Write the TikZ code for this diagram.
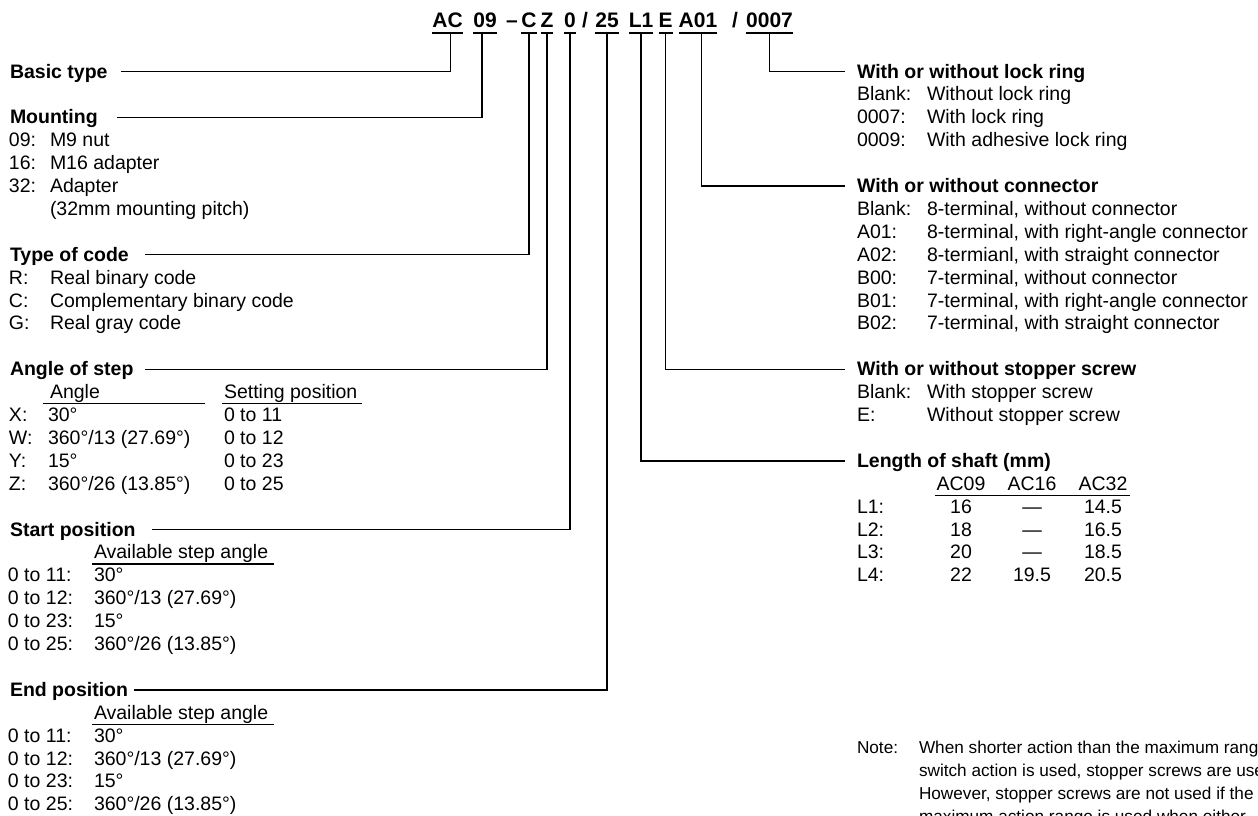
\documentclass[tikz,border=0pt]{standalone}
\usepackage{fontspec}
\setmainfont{Liberation Sans}
\newcommand\bodyfs{\fontsize{19.5}{22.9}\selectfont}
\newcommand\notefs{\fontsize{17.2}{22.9}\selectfont}
\newcommand\codefs{\fontsize{21}{24}\selectfont}
\begin{document}
\begin{tikzpicture}[x=1pt,y=-1pt,
  every node/.style={inner sep=0pt,outer sep=0pt,font=\bodyfs},
  txt/.style={anchor=base west},
  ttl/.style={anchor=base west,font=\bodyfs\bfseries},
  ctr/.style={anchor=base},
  notetxt/.style={anchor=base west,font=\notefs},
  code/.style={anchor=base,font=\codefs\bfseries},
  ln/.style={line width=1.4pt},
  cul/.style={line width=2.2pt},
  tul/.style={line width=1.3pt}]
\useasboundingbox (0,0) rectangle (1258,816);

% ---------------- header code ----------------
\node[code] (hAC)   at (447.5,28) {AC};
\node[code] (h09)   at (485,28)   {09};
\node[code] (hdash) at (512,28)   {–};
\node[code] (hC)    at (529,28)   {C};
\node[code] (hZ)    at (547,28)   {Z};
\node[code] (h0)    at (570,28)   {0};
\node[code] (hsl)   at (585,28)   {/};
\node[code] (h25)   at (607,28)   {25};
\node[code] (hL1)   at (641,28)   {L1};
\node[code] (hE)    at (665.5,28) {E};
\node[code] (hA01)  at (698,28)   {A01};
\node[code] (hslb)  at (735,28)   {/};
\node[code] (h0007) at (769.5,28) {0007};
\foreach \n in {hAC,h09,hC,hZ,h0,h25,hL1,hE,hA01,h0007}
  \draw[cul] ([yshift=-5pt]\n.base west) -- ([yshift=-5pt]\n.base east);

% ---------------- left column ----------------
\node[ttl] (tBasic) at (10,{78+22.9*0}) {Basic type};

\node[ttl] (tMount) at (10,{78+22.9*2}) {Mounting};
\node[txt] (mA) at (9,{78+22.9*3}) {09:};  \node[txt] (mAt) at (50,{78+22.9*3}) {M9 nut};
\node[txt] (mB) at (9,{78+22.9*4}) {16:};  \node[txt] (mBt) at (50,{78+22.9*4}) {M16 adapter};
\node[txt] (mC) at (9,{78+22.9*5}) {32:};  \node[txt] (mCt) at (50,{78+22.9*5}) {Adapter};
\node[txt] (mCu) at (50,{78+22.9*6}) {(32mm mounting pitch)};

\node[ttl] (tCode) at (10,{78+22.9*8}) {Type of code};
\node[txt] (cR) at (9,{78+22.9*9})  {R:}; \node[txt] (cRt) at (50,{78+22.9*9})  {Real binary code};
\node[txt] (cC) at (9,{78+22.9*10}) {C:}; \node[txt] (cCt) at (50,{78+22.9*10}) {Complementary binary code};
\node[txt] (cG) at (9,{78+22.9*11}) {G:}; \node[txt] (cGt) at (50,{78+22.9*11}) {Real gray code};

\node[ttl] (tAngle) at (10,{78+22.9*13}) {Angle of step};
\node[txt] (aH1) at (50,{78+22.9*14}) {Angle};
\node[txt] (aH2) at (224,{78+22.9*14}) {Setting position};
\draw[tul] (43,{78+22.9*14+5}) -- (205,{78+22.9*14+5});
\draw[tul] (222,{78+22.9*14+5}) -- (362,{78+22.9*14+5});
\node[txt] (aX) at (9,{78+22.9*15}) {X:}; \node[txt] (aXt) at (48,{78+22.9*15}) {30°};              \node[txt] (aXs) at (224,{78+22.9*15}) {0 to 11};
\node[txt] (aW) at (9,{78+22.9*16}) {W:}; \node[txt] (aWt) at (48,{78+22.9*16}) {360°/13 (27.69°)}; \node[txt] (aWs) at (224,{78+22.9*16}) {0 to 12};
\node[txt] (aY) at (9,{78+22.9*17}) {Y:}; \node[txt] (aYt) at (48,{78+22.9*17}) {15°};              \node[txt] (aYs) at (224,{78+22.9*17}) {0 to 23};
\node[txt] (aZ) at (9,{78+22.9*18}) {Z:}; \node[txt] (aZt) at (48,{78+22.9*18}) {360°/26 (13.85°)}; \node[txt] (aZs) at (224,{78+22.9*18}) {0 to 25};

\node[ttl] (tStart) at (10,{78+22.9*20}) {Start position};
\node[txt] (sH) at (94,{78+22.9*21}) {Available step angle};
\draw[tul] (92,{78+22.9*21+5}) -- (274,{78+22.9*21+5});
\node[txt] (s1) at (8,{78+22.9*22}) {0 to 11:}; \node[txt] (s1t) at (94,{78+22.9*22}) {30°};
\node[txt] (s2) at (8,{78+22.9*23}) {0 to 12:}; \node[txt] (s2t) at (94,{78+22.9*23}) {360°/13 (27.69°)};
\node[txt] (s3) at (8,{78+22.9*24}) {0 to 23:}; \node[txt] (s3t) at (94,{78+22.9*24}) {15°};
\node[txt] (s4) at (8,{78+22.9*25}) {0 to 25:}; \node[txt] (s4t) at (94,{78+22.9*25}) {360°/26 (13.85°)};

\node[ttl] (tEnd) at (10,{78+22.9*27}) {End position};
\node[txt] (eH) at (94,{78+22.9*28}) {Available step angle};
\draw[tul] (92,{78+22.9*28+5}) -- (274,{78+22.9*28+5});
\node[txt] (e1) at (8,{78+22.9*29}) {0 to 11:}; \node[txt] (e1t) at (94,{78+22.9*29}) {30°};
\node[txt] (e2) at (8,{78+22.9*30}) {0 to 12:}; \node[txt] (e2t) at (94,{78+22.9*30}) {360°/13 (27.69°)};
\node[txt] (e3) at (8,{78+22.9*31}) {0 to 23:}; \node[txt] (e3t) at (94,{78+22.9*31}) {15°};
\node[txt] (e4) at (8,{78+22.9*32}) {0 to 25:}; \node[txt] (e4t) at (94,{78+22.9*32}) {360°/26 (13.85°)};

% ---------------- right column ----------------
\node[ttl] (tLock) at (857,{78+22.9*0}) {With or without lock ring};
\node[txt] (l1) at (857,{78+22.9*1}) {Blank:}; \node[txt] (l1t) at (927,{78+22.9*1}) {Without lock ring};
\node[txt] (l2) at (857,{78+22.9*2}) {0007:};  \node[txt] (l2t) at (927,{78+22.9*2}) {With lock ring};
\node[txt] (l3) at (857,{78+22.9*3}) {0009:};  \node[txt] (l3t) at (927,{78+22.9*3}) {With adhesive lock ring};

\node[ttl] (tConn) at (857,{78+22.9*5}) {With or without connector};
\node[txt] (k1) at (857,{78+22.9*6})  {Blank:}; \node[txt] (k1t) at (927,{78+22.9*6})  {8-terminal, without connector};
\node[txt] (k2) at (857,{78+22.9*7})  {A01:};   \node[txt] (k2t) at (927,{78+22.9*7})  {8-terminal, with right-angle connector};
\node[txt] (k3) at (857,{78+22.9*8})  {A02:};   \node[txt] (k3t) at (927,{78+22.9*8})  {8-termianl, with straight connector};
\node[txt] (k4) at (857,{78+22.9*9})  {B00:};   \node[txt] (k4t) at (927,{78+22.9*9})  {7-terminal, without connector};
\node[txt] (k5) at (857,{78+22.9*10}) {B01:};   \node[txt] (k5t) at (927,{78+22.9*10}) {7-terminal, with right-angle connector};
\node[txt] (k6) at (857,{78+22.9*11}) {B02:};   \node[txt] (k6t) at (927,{78+22.9*11}) {7-terminal, with straight connector};

\node[ttl] (tStop) at (857,{78+22.9*13}) {With or without stopper screw};
\node[txt] (p1) at (857,{78+22.9*14}) {Blank:}; \node[txt] (p1t) at (927,{78+22.9*14}) {With stopper screw};
\node[txt] (p2) at (857,{78+22.9*15}) {E:};     \node[txt] (p2t) at (927,{78+22.9*15}) {Without stopper screw};

\node[ttl] (tShaft) at (857,{78+22.9*17}) {Length of shaft (mm)};
\node[ctr] (sc1) at (961,{78+22.9*18})  {AC09};
\node[ctr] (sc2) at (1032,{78+22.9*18}) {AC16};
\node[ctr] (sc3) at (1103,{78+22.9*18}) {AC32};
\draw[tul] (935,{78+22.9*18+5}) -- (1130,{78+22.9*18+5});
\node[txt] (L1) at (857,{78+22.9*19}) {L1:}; \node[ctr] (L1a) at (961,{78+22.9*19}) {16}; \node[ctr] (L1b) at (1032,{78+22.9*19}) {—};    \node[ctr] (L1c) at (1103,{78+22.9*19}) {14.5};
\node[txt] (L2) at (857,{78+22.9*20}) {L2:}; \node[ctr] (L2a) at (961,{78+22.9*20}) {18}; \node[ctr] (L2b) at (1032,{78+22.9*20}) {—};    \node[ctr] (L2c) at (1103,{78+22.9*20}) {16.5};
\node[txt] (L3) at (857,{78+22.9*21}) {L3:}; \node[ctr] (L3a) at (961,{78+22.9*21}) {20}; \node[ctr] (L3b) at (1032,{78+22.9*21}) {—};    \node[ctr] (L3c) at (1103,{78+22.9*21}) {18.5};
\node[txt] (L4) at (857,{78+22.9*22}) {L4:}; \node[ctr] (L4a) at (961,{78+22.9*22}) {22}; \node[ctr] (L4b) at (1032,{78+22.9*22}) {19.5}; \node[ctr] (L4c) at (1103,{78+22.9*22}) {20.5};

\begin{scope}
\clip (0,0) rectangle (1258,816);
\node[notetxt] (nN) at (857,{78+22.9*29.5}) {Note:};
\node[notetxt] (n1) at (919,{78+22.9*29.5}) {When shorter action than the maximum range};
\node[notetxt] (n2) at (919,{78+22.9*30.5}) {switch action is used, stopper screws are used.};
\node[notetxt] (n3) at (919,{78+22.9*31.5}) {However, stopper screws are not used if the};
\node[notetxt] (n4) at (919,{78+22.9*32.5}) {maximum action range is used when either};
\end{scope}

% ---------------- connectors ----------------
\draw[ln] ([xshift=3pt,yshift=-5pt]hAC.base)  |- ([xshift=13pt,yshift=6.5pt]tBasic.base east);
\draw[ln] ([xshift=-3pt,yshift=-5pt]h09.base) |- ([xshift=19pt,yshift=6.5pt]tMount.base east);
\draw[ln] ([yshift=-5pt]hC.base)   |- ([xshift=16pt,yshift=6.5pt]tCode.base east);
\draw[ln] ([yshift=-5pt]hZ.base)   |- ([xshift=11pt,yshift=6.5pt]tAngle.base east);
\draw[ln] ([yshift=-5pt]h0.base)   |- ([xshift=16pt,yshift=6.5pt]tStart.base east);
\draw[ln] ([yshift=-5pt]h25.base)  |- ([xshift=6pt,yshift=6.5pt]tEnd.base east);
\draw[ln] ([yshift=-5pt]h0007.base) |- ([xshift=-12pt,yshift=6.5pt]tLock.base west);
\draw[ln] ([xshift=3.5pt,yshift=-5pt]hA01.base) |- ([xshift=-12pt,yshift=6.5pt]tConn.base west);
\draw[ln] ([yshift=-5pt]hE.base)    |- ([xshift=-12pt,yshift=6.5pt]tStop.base west);
\draw[ln] ([yshift=-5pt]hL1.base)   |- ([xshift=-12pt,yshift=6.5pt]tShaft.base west);
\end{tikzpicture}
\end{document}
